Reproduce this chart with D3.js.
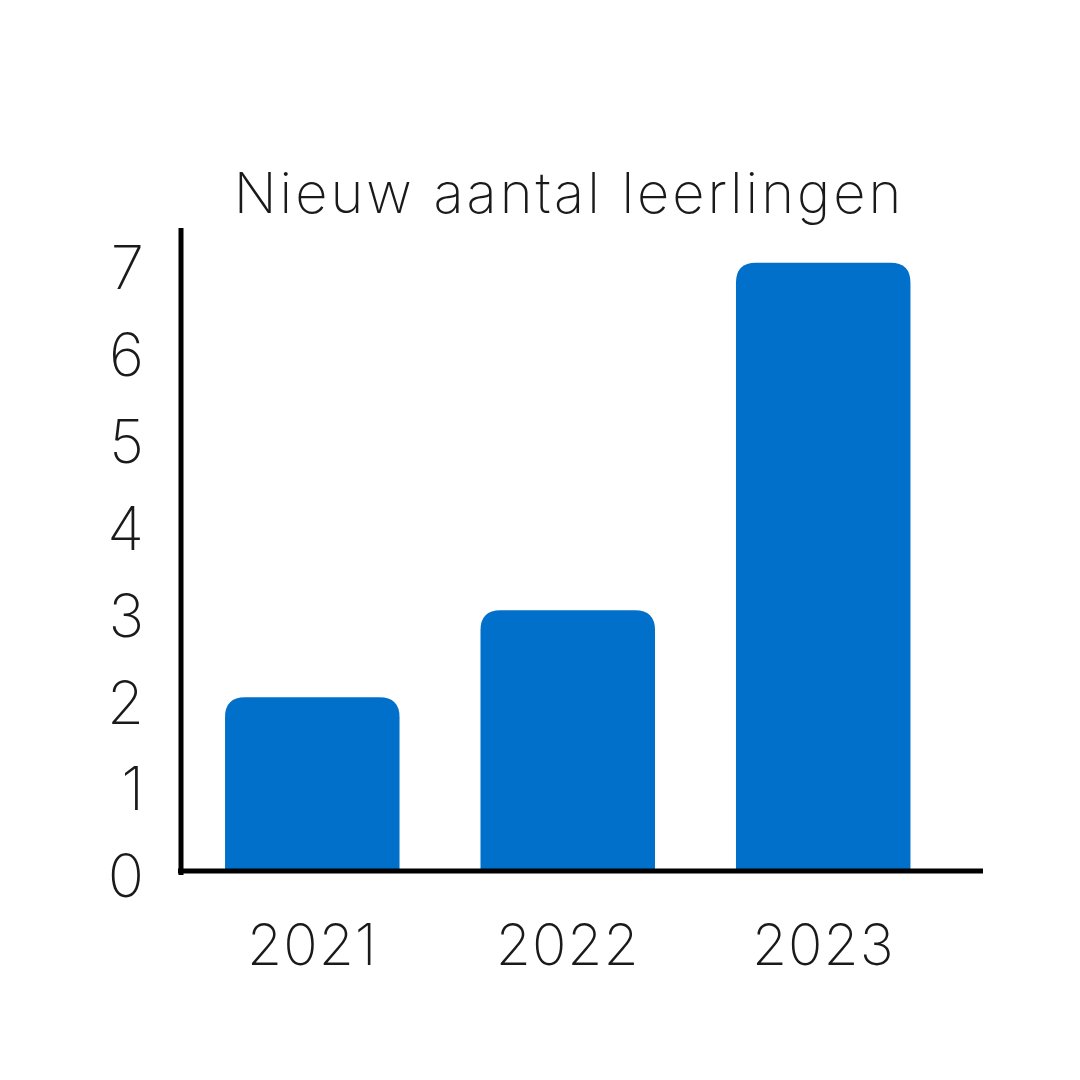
<!DOCTYPE html>
<html>
<head>
<meta charset="utf-8">
<script src="https://cdn.jsdelivr.net/npm/d3@7"></script>
<style>
  body { margin: 0; background: #fff; }
  text { font-family: "Inter", "Lato", sans-serif; font-weight: 230; fill: #1a1a1a; }
</style>
</head>
<body>
<div id="chart"></div>
<script>
const jaren = ["2021", "2022", "2023"]
const leerlingen = [2, 3, 7]
const yTicks = [0, 1, 2, 3, 4, 5, 6, 7]
const titel = "Nieuw aantal leerlingen"

const ancho = 1080
const alto = 1080
const letra = "Inter, Lato, sans-serif"

const svg = d3.select("#chart").append("svg").attr("width", ancho).attr("height", alto)

const x = d3.scaleBand().domain(jaren).range([176.5, 959]).paddingInner(0.317).paddingOuter(0.19)
const y = d3.scaleLinear().domain([0, 7.4]).range([871, 228])

// barras con esquinas superiores redondeadas
const r = 20
svg.append("g").selectAll("path").data(leerlingen).enter().append("path")
    .attr("fill", "#0070ca")
    .attr("d", (d, i) => {
        const x0 = x(jaren[i]), x1 = x0 + x.bandwidth(), top = y(d), bot = y(0)
        return `M${x0},${bot} V${top + r} Q${x0},${top} ${x0 + r},${top} H${x1 - r} Q${x1},${top} ${x1},${top + r} V${bot} Z`
    })

// eje y
const grupoY = svg.append("g").attr("transform", "translate(181,0)")
    .call(d3.axisLeft(y).tickValues(yTicks).tickSize(0).tickSizeOuter(0).tickPadding(37).tickFormat(d3.format("d")))
grupoY.select(".domain").attr("stroke", "#000").attr("stroke-width", 5)
    .attr("d", `M0,${y.range()[1]}V${y(0) + 4}`)
grupoY.selectAll("text").attr("font-size", 60).attr("dy", "0.43em")
    .style("font-family", letra).style("font-weight", 230).attr("fill", "#1a1a1a")

// eje x
const grupoX = svg.append("g").attr("transform", `translate(0,${y(0)})`)
    .call(d3.axisBottom(x).tickSize(0).tickPadding(54))
grupoX.select(".domain").attr("stroke", "#000").attr("stroke-width", 5)
    .attr("d", "M178,0H983")
grupoX.selectAll("text").attr("font-size", 57).style("letter-spacing", "1px")
    .style("font-family", letra).style("font-weight", 230).attr("fill", "#1a1a1a")

svg.append("text").attr("x", 569).attr("y", 213).attr("text-anchor", "middle")
    .attr("font-size", 56).style("letter-spacing", "3px").text(titel)
</script>
</body>
</html>
